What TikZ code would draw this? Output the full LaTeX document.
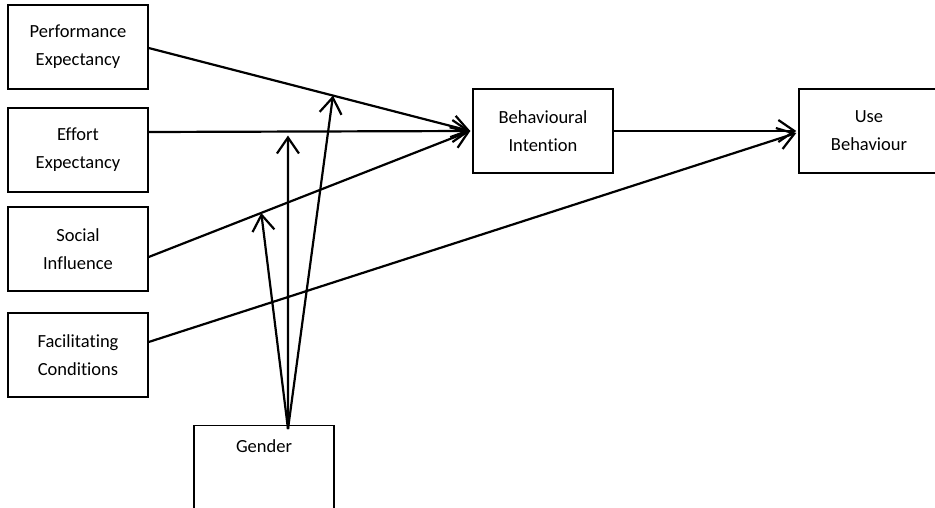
\documentclass[tikz,border=0pt]{standalone}
\usepackage{fontspec}
\setmainfont{Carlito}[Ligatures=NoCommon]
\usetikzlibrary{arrows.meta}

\tikzset{
  factor/.style={draw,line width=1.4pt,minimum width=140pt,minimum height=84pt,
    align=center,inner sep=4pt,font=\fontsize{18.5}{28}\selectfont},
  link/.style={line width=2.2pt,->},
}

\begin{document}
\begin{tikzpicture}[x=1pt,y=-1pt,>={Straight Barb[length=16pt,width=22pt]}]
\clip (0,0) rectangle (935,508);
\path (78,47)  node[factor] (perf)   {Performance\\Expectancy};
\path (78,150) node[factor] (effort) {Effort\\Expectancy};
\path (78,249) node[factor] (social) {Social\\Influence};
\path (78,355) node[factor] (facil)  {Facilitating\\Conditions};
\path (543,131) node[factor] (intent) {Behavioural\\Intention};
\path (869,131) node[factor] (use)    {Use\\Behaviour};
\path (264,425) node[factor,anchor=north,text height=20pt,text depth=50pt] (gender) {Gender};
\coordinate (g) at ([xshift=24pt,yshift=-4pt]gender.north);
\draw [link] ([yshift=-1pt]perf.east) -- coordinate[pos=0.573] (mperf) ([xshift=-2pt]intent.west);
\draw [link] ([yshift=18pt]effort.east) -- coordinate[pos=0.433] (meffort) ([xshift=-2pt]intent.west);
\draw [link] ([yshift=-8pt]social.east) -- coordinate[pos=0.35] (msocial) ([xshift=-2pt]intent.west);
\draw [link] ([yshift=13pt]facil.east) -- ([xshift=-2pt,yshift=-2pt]use.west);
\draw [link] (intent.east) -- ([xshift=-2pt]use.west);
\draw [link] (g) -- (mperf);
\draw [link] (g) -- ([yshift=-4pt]meffort);
\draw [link] (g) -- (msocial);
\end{tikzpicture}
\end{document}
